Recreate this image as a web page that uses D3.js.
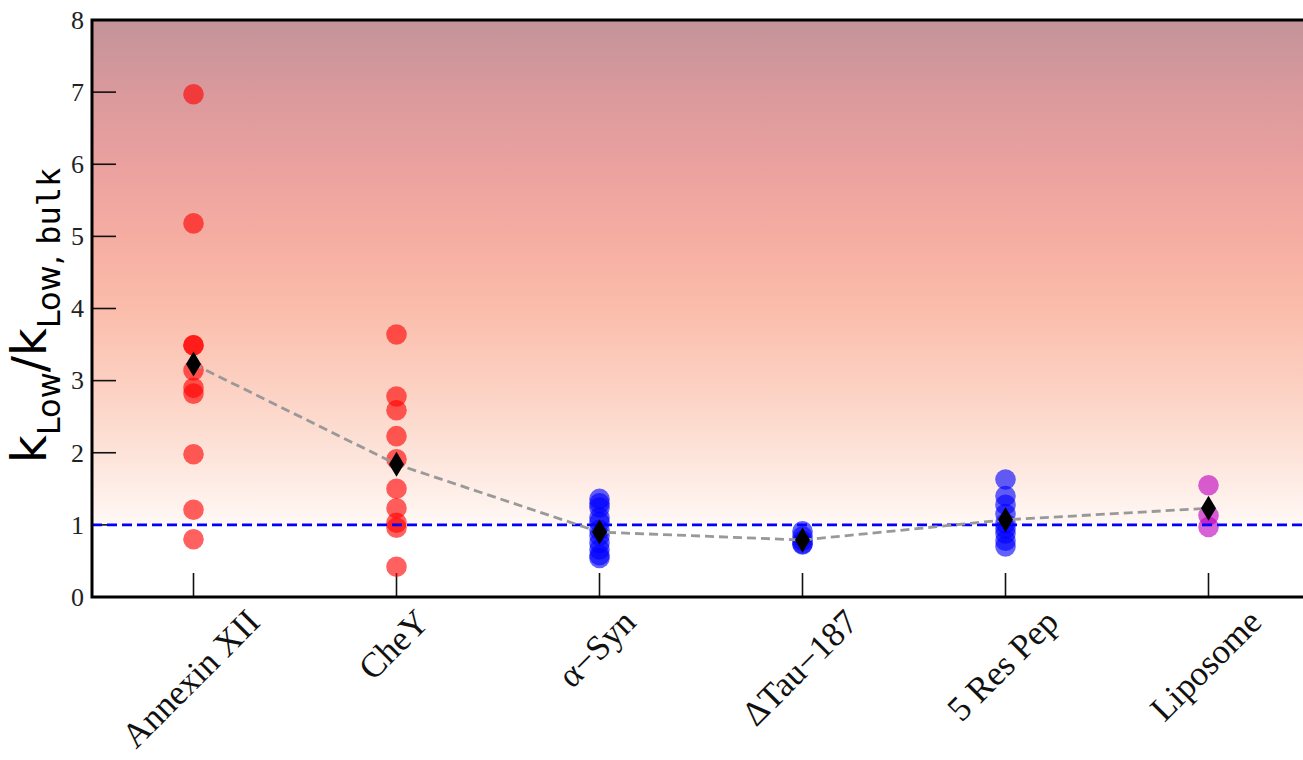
<!DOCTYPE html>
<html>
<head>
<meta charset="utf-8">
<script src="https://cdn.jsdelivr.net/npm/d3@7"></script>
<style>
  html, body { margin: 0; padding: 0; background: #ffffff; }
  svg { display: block; }
</style>
</head>
<body>
<svg id="chart" width="1303" height="760"></svg>
<script>
// Systems on the x axis
const categories = ["Annexin XII", "CheY", "\u03b1\u2212Syn", "\u0394Tau\u2212187", "5 Res Pep", "Liposome"];

// Individual k_Low / k_Low,bulk ratios per system
const annexinValues  = [6.97, 5.18, 3.49, 3.49, 3.14, 2.90, 2.82, 1.98, 1.21, 0.80];
const cheyValues     = [3.64, 2.78, 2.59, 2.23, 1.91, 1.50, 1.23, 1.03, 0.96, 0.42];
const synValues      = [1.36, 1.30, 1.24, 1.10, 1.04, 0.93, 0.85, 0.75, 0.66, 0.58, 0.54];
const tauValues      = [0.91, 0.84, 0.78, 0.74, 0.73];
const pepValues      = [1.63, 1.40, 1.28, 1.15, 1.02, 0.95, 0.88, 0.78, 0.70];
const liposomeValues = [1.55, 1.13, 0.97];

// Average ratio per system (diamonds joined by the grey dashed line)
const meanValues = [3.23, 1.84, 0.90, 0.79, 1.07, 1.23];

// Point colour per system
const groupColors = ["#ff0000", "#ff0000", "#0000ff", "#0000ff", "#0000ff", "#bf00bf"];

// Axis ticks
const yTicks = [0, 1, 2, 3, 4, 5, 6, 7, 8];
const bulkReference = 1;

const groups = [annexinValues, cheyValues, synValues, tauValues, pepValues, liposomeValues];

const svg = d3.select("#chart");
const plot = { left: 92, right: 1310, top: 20, bottom: 597 };

const x = d3.scalePoint().domain(categories).range([plot.left, plot.right]).padding(0.5);
const y = d3.scaleLinear().domain([0, 8]).range([plot.bottom, plot.top]);

// Background shading rising from the bulk reference line to the top
const defs = svg.append("defs");
const grad = defs.append("linearGradient")
  .attr("id", "bg").attr("x1", 0).attr("y1", 1).attr("x2", 0).attr("y2", 0);
const gradStops = [
  [0, "#fff8f5"], [1/7, "#fde3d9"], [2/7, "#fccfc0"], [3/7, "#fbbdab"],
  [4/7, "#f5ada2"], [5/7, "#eaa19f"], [6/7, "#da999c"], [1, "#c29499"]
];
grad.selectAll("stop").data(gradStops).join("stop")
  .attr("offset", d => d[0]).attr("stop-color", d => d[1]);

defs.append("clipPath").attr("id", "clip")
  .append("rect").attr("x", plot.left).attr("y", plot.top)
  .attr("width", plot.right - plot.left).attr("height", plot.bottom - plot.top);

const inner = svg.append("g").attr("clip-path", "url(#clip)");

inner.append("rect")
  .attr("x", plot.left).attr("width", plot.right - plot.left)
  .attr("y", y(8)).attr("height", y(bulkReference) - y(8))
  .attr("fill", "url(#bg)");

// Inward ticks
inner.append("g").selectAll("line").data(yTicks.slice(1, -1)).join("line")
  .attr("x1", plot.left).attr("x2", plot.left + 24)
  .attr("y1", d => y(d)).attr("y2", d => y(d))
  .attr("stroke", "#111").attr("stroke-width", 1.6);

inner.append("g").selectAll("line").data(categories).join("line")
  .attr("x1", d => x(d)).attr("x2", d => x(d))
  .attr("y1", plot.bottom).attr("y2", plot.bottom - 24)
  .attr("stroke", "#111").attr("stroke-width", 1.6);

// Individual measurements
const pts = [];
groups.forEach((vals, i) => vals.forEach(v => pts.push({ c: categories[i], v, color: groupColors[i] })));
inner.append("g").selectAll("circle").data(pts).join("circle")
  .attr("cx", d => x(d.c)).attr("cy", d => y(d.v)).attr("r", 10.3)
  .attr("fill", d => d.color).attr("fill-opacity", 0.62);

// Bulk reference line
inner.append("line")
  .attr("x1", plot.left).attr("x2", plot.right)
  .attr("y1", y(bulkReference)).attr("y2", y(bulkReference))
  .attr("stroke", "#0000ff").attr("stroke-width", 2.6)
  .attr("stroke-dasharray", "10,5");

// Mean trend
const line = d3.line().x((d, i) => x(categories[i])).y(d => y(d));
inner.append("path").datum(meanValues)
  .attr("d", line).attr("fill", "none")
  .attr("stroke", "#999999").attr("stroke-width", 2.8)
  .attr("stroke-dasharray", "9,5");

const diamond = "M0,-12.5L7.5,0L0,12.5L-7.5,0Z";
inner.append("g").selectAll("path").data(meanValues).join("path")
  .attr("d", diamond)
  .attr("transform", (d, i) => `translate(${x(categories[i])},${y(d)})`)
  .attr("fill", "#000");

// Frame
svg.append("path")
  .attr("d", `M${plot.right},${plot.top}H${plot.left}V${plot.bottom}H${plot.right}`)
  .attr("fill", "none").attr("stroke", "#000").attr("stroke-width", 3);

// Y tick labels
svg.append("g").selectAll("text").data(yTicks).join("text")
  .attr("x", plot.left - 8).attr("y", d => y(d))
  .attr("dy", "0.34em")
  .attr("text-anchor", "end")
  .attr("font-family", "'Liberation Serif', 'Times New Roman', serif")
  .attr("font-size", 26).attr("fill", "#222")
  .text(d => d);

// X tick labels, rotated 45 degrees and centred under each tick
const xFont = 35;
const xl = svg.append("g").selectAll("text").data(categories).join("text")
  .attr("text-anchor", "middle")
  .attr("font-family", "'Liberation Serif', 'Times New Roman', serif")
  .attr("font-size", xFont).attr("fill", "#111")
  .attr("dy", "0.3em")
  .text(d => d);
xl.attr("transform", function (d) {
  const w = this.getComputedTextLength();
  const half = 0.7071 * (w + 0.7 * xFont) / 2;
  return `translate(${x(d) - 2},${608 + half}) rotate(-45)`;
});

// Y axis title
const yt = svg.append("text")
  .attr("transform", "translate(46,463) rotate(-90)")
  .attr("text-anchor", "start")
  .attr("font-family", "'DejaVu Sans', sans-serif")
  .attr("fill", "#000");
yt.append("tspan").attr("font-size", 48).text("k");
yt.append("tspan").attr("font-size", 32).attr("dy", 14).text("Low");
yt.append("tspan").attr("font-size", 48).attr("dy", -14).text("/k");
yt.append("tspan").attr("font-size", 32).attr("dy", 14).text("Low, ");
yt.append("tspan").attr("font-size", 32).attr("font-family", "'DejaVu Sans Mono', monospace").text("bulk");
</script>
</body>
</html>
